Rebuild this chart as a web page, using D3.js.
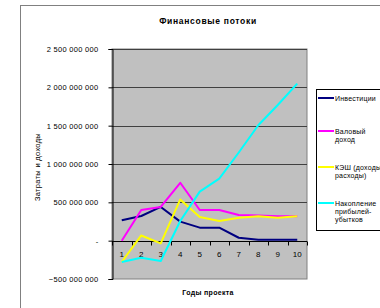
<!DOCTYPE html>
<html>
<head>
<meta charset="utf-8">
<script src="https://cdn.jsdelivr.net/npm/d3@7"></script>
<style>
  body { margin: 0; background: #fff; }
  svg { display: block; font-family: "Liberation Sans", Arial, sans-serif; }
</style>
</head>
<body>
<div id="chart"></div>
<script>
// Финансовые потоки — line chart, values in roubles
const years = ['1', '2', '3', '4', '5', '6', '7', '8', '9', '10'];
const invest = [265e6, 322e6, 440e6, 248e6, 170e6, 170e6, 38e6, 13e6, 13e6, 13e6];
const gross = [0, 400e6, 440e6, 755e6, 400e6, 400e6, 335e6, 328e6, 320e6, 320e6];
const cash = [-278e6, 68e6, -35e6, 538e6, 308e6, 257e6, 300e6, 320e6, 300e6, 320e6];
const accum = [-278e6, -222e6, -265e6, 256e6, 640e6, 810e6, 1150e6, 1505e6, 1770e6, 2048e6];
const yTicks = [-500e6, 0, 500e6, 1000e6, 1500e6, 2000e6, 2500e6];

const series = [
  { name: ['Инвестиции'], values: invest, color: '#000080' },
  { name: ['Валовый', 'доход'], values: gross, color: '#ff00ff' },
  { name: ['КЭШ (доходы-', 'расходы)'], values: cash, color: '#ffff00' },
  { name: ['Накопление', 'прибылей-', 'убытков'], values: accum, color: '#00ffff' }
];

const W = 380, H = 308;
const plot = { left: 112, right: 307, top: 49, bottom: 279 };

const svg = d3.select('#chart').append('svg')
  .attr('width', W).attr('height', H);

// chart frame
svg.append('rect')
  .attr('x', 20.5).attr('y', 5.5).attr('width', 400).attr('height', 400)
  .attr('fill', '#fff').attr('stroke', '#808080').attr('stroke-width', 1);

const x = d3.scalePoint().domain(years).range([plot.left, plot.right]).padding(0.5);
const y = d3.scaleLinear().domain([-500e6, 2500e6]).range([plot.bottom, plot.top]);

// plot background
svg.append('rect')
  .attr('x', plot.left).attr('y', plot.top)
  .attr('width', plot.right - plot.left).attr('height', plot.bottom - plot.top)
  .attr('fill', '#c0c0c0').attr('stroke', '#808080').attr('stroke-width', 1);

// gridlines
svg.append('g')
  .selectAll('line').data(yTicks.slice(1)).join('line')
  .attr('x1', plot.left).attr('x2', plot.right)
  .attr('y1', d => Math.round(y(d)) + 0.5).attr('y2', d => Math.round(y(d)) + 0.5)
  .attr('stroke', '#404040').attr('stroke-width', 1);

const fmt = d => d === 0 ? '-' : d3.format(',')(d).replace(/,/g, ' ');

// y axis
const yAxis = svg.append('g')
  .attr('transform', `translate(${plot.left + 0.5},0)`)
  .call(d3.axisLeft(y).tickValues(yTicks).tickFormat(fmt).tickSize(4).tickPadding(10));
yAxis.select('.domain').attr('stroke', '#000');
yAxis.selectAll('line').attr('stroke', '#000');
yAxis.selectAll('text').style('font-size', '7.5px').style('letter-spacing', '0.3px')
  .attr('fill', '#000');

// x axis across zero
const band = (plot.right - plot.left) / years.length;
const y0 = Math.round(y(0)) + 0.5;
const xAxis = svg.append('g');
xAxis.append('line')
  .attr('x1', plot.left).attr('x2', plot.right)
  .attr('y1', y0).attr('y2', y0).attr('stroke', '#000');
xAxis.selectAll('line.tick').data(d3.range(years.length + 1)).join('line')
  .attr('class', 'tick')
  .attr('x1', i => Math.round(plot.left + i * band) + 0.5)
  .attr('x2', i => Math.round(plot.left + i * band) + 0.5)
  .attr('y1', y0).attr('y2', y0 + 4).attr('stroke', '#000');
xAxis.selectAll('text').data(years).join('text')
  .attr('x', d => x(d)).attr('y', y0 + 15)
  .attr('text-anchor', 'middle').style('font-size', '8px').attr('fill', '#000')
  .text(d => d);

// lines
const line = d3.line().x((d, i) => x(years[i])).y(d => y(d));
svg.append('g').selectAll('path').data(series).join('path')
  .attr('d', s => line(s.values))
  .attr('fill', 'none').attr('stroke', s => s.color).attr('stroke-width', 2)
  .attr('stroke-linejoin', 'round');

// titles
svg.append('text')
  .attr('x', 208).attr('y', 24).attr('text-anchor', 'middle')
  .style('font-size', '8.5px').style('font-weight', 'bold').style('letter-spacing', '0.7px')
  .text('Финансовые потоки');
svg.append('text')
  .attr('x', 208).attr('y', 295).attr('text-anchor', 'middle')
  .style('font-size', '7px').style('font-weight', 'bold').style('letter-spacing', '0.3px')
  .text('Годы проекта');
svg.append('text')
  .attr('transform', `translate(40,${(plot.top + plot.bottom) / 2 + 3}) rotate(-90)`)
  .attr('text-anchor', 'middle').style('font-size', '7.5px').style('letter-spacing', '0.3px')
  .text('Затраты и доходы');

// legend
const legend = svg.append('g');
legend.append('rect')
  .attr('x', 316.5).attr('y', 89.5).attr('width', 80).attr('height', 141)
  .attr('fill', '#fff').attr('stroke', '#000').attr('stroke-width', 1);
const legendY = [98, 131, 167, 203];
series.forEach((s, i) => {
  const g = legend.append('g').attr('transform', `translate(318,${legendY[i]})`);
  g.append('line').attr('x1', 0).attr('x2', 16).attr('y1', 0).attr('y2', 0)
    .attr('stroke', s.color).attr('stroke-width', 2);
  s.name.forEach((t, j) => {
    g.append('text')
      .attr('x', 17).attr('y', 2.5 + j * 8)
      .style('font-size', '7px').style('letter-spacing', '0.2px').text(t);
  });
});
</script>
</body>
</html>
